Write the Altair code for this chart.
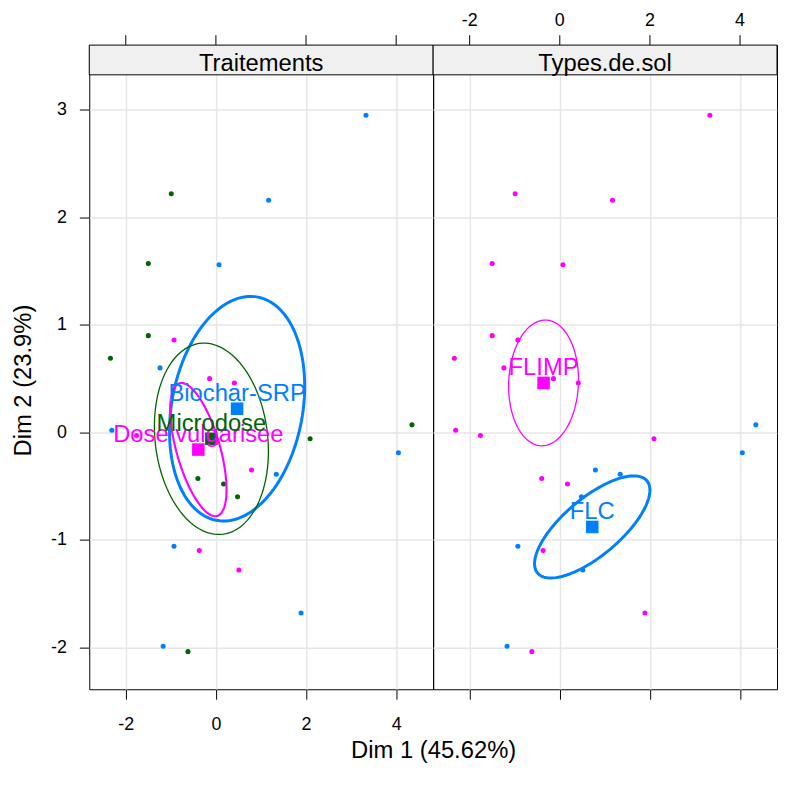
import altair as alt
import numpy as np
import pandas as pd

# ---- individuals (Dim 1, Dim 2) ----
dim1 = [3.33, -0.99, 1.17, -1.50, 0.07, -1.50, -0.93, -2.34, -1.24, -0.14, 0.41,
        -2.31, -1.76, 4.35, 2.09, 4.05, 0.79, 1.34, -0.40, 0.17, 0.48, -0.93,
        -0.37, 0.51, 1.89, -1.17, -0.62]
dim2 = [2.95, 2.22, 2.16, 1.57, 1.56, 0.90, 0.86, 0.69, 0.60, 0.50, 0.46,
        0.02, -0.03, 0.07, -0.06, -0.19, -0.35, -0.39, -0.43, -0.48, -0.60, -1.06,
        -1.10, -1.28, -1.68, -1.99, -2.04]
B, D, M = "Biochar-SRP", "Dose vulgarisee", "Microdose"
traitement = [B, M, B, M, B, M, D, M, B, D, D,
              B, D, M, M, B, D, B, M, M, M, B,
              D, D, B, B, M]
type_sol = ["FLIMP"] * 13 + ["FLC", "FLIMP", "FLC", "FLC", "FLC", "FLIMP", "FLIMP",
                             "FLC", "FLC", "FLIMP", "FLC", "FLIMP", "FLC", "FLIMP"]

# ---- categories ----
trt_levels = [B, D, M]
trt_colors = ["#0080FF", "#FF00FF", "#006400"]
trt_lw = [3, 1.3, 1.3]
sol_levels = ["FLC", "FLIMP"]
sol_colors = ["#0080FF", "#FF00FF"]
sol_lw = [3, 1.3]

# category barycentres
trt_cx = [0.47, -0.39, -0.10]
trt_cy = [0.22, -0.16, -0.06]
sol_cx = [0.72, -0.36]
sol_cy = [-0.88, 0.46]

# confidence ellipses: half extents along Dim 1 / Dim 2 and correlation
trt_ax = [1.50, 0.625, 1.265]
trt_ay = [1.045, 0.62, 0.89]
trt_rho = [0.20, -0.60, -0.13]
sol_ax = [1.28, 0.775]
sol_ay = [0.475, 0.585]
sol_rho = [0.72, 0.05]

panel_titles = ["Traitements", "Types.de.sol"]
x_ticks = [-2, 0, 2, 4]
y_ticks = [-2, -1, 0, 1, 2, 3]
x_title = "Dim 1 (45.62%)"
y_title = "Dim 2 (23.9%)"

FONT = "Liberation Sans"
W, H, STRIP = 347, 650, 30
xdom = [-2.81, 4.82]
ydom = [-2.39, 3.603]
LABEL_EXPR = "'' + datum.value"   # hyphen-minus like the reference

pts = pd.DataFrame({"dim1": dim1, "dim2": dim2, "trt": traitement, "sol": type_sol})
xt = pd.DataFrame({"v": x_ticks, "lab": [str(v) for v in x_ticks]})
yt = pd.DataFrame({"v": y_ticks})


def ellipse_df(levels, cx, cy, ax, ay, rho):
    t = np.linspace(0, 2 * np.pi, 121)
    frames = []
    for lev, x0, y0, a, b, r in zip(levels, cx, cy, ax, ay, rho):
        xs = x0 + a * np.cos(t)
        ys = y0 + b * (r * np.cos(t) + np.sqrt(1 - r * r) * np.sin(t))
        frames.append(pd.DataFrame({"g": lev, "i": np.arange(len(t)), "x": xs, "y": ys}))
    return pd.concat(frames, ignore_index=True)


def panel(idx, field, levels, colors, lws, cx, cy, ax, ay, rho):
    left = idx == 0
    xs = alt.Scale(domain=xdom, nice=False, zero=False)
    ys = alt.Scale(domain=ydom, nice=False, zero=False)
    cscale = alt.Scale(domain=levels, range=colors)

    if left:
        x_axis = alt.Axis(orient="bottom", values=x_ticks, grid=True, labels=True,
                          labelPadding=17, labelExpr=LABEL_EXPR,
                          title=x_title, titleX=W, titleY=69, titleAlign="center",
                          titleBaseline="alphabetic", titleAngle=0)
        y_axis = alt.Axis(orient="left", values=y_ticks, grid=True, labels=True,
                          labelPadding=13, labelExpr=LABEL_EXPR,
                          title=y_title, titleAngle=270,
                          titleX=-59, titleY=338, titleAlign="center",
                          titleBaseline="alphabetic")
    else:
        x_axis = alt.Axis(orient="bottom", values=x_ticks, grid=True, labels=False,
                          title=None)
        y_axis = alt.Axis(orient="left", values=y_ticks, grid=True, labels=False,
                          ticks=False, title=None)

    points = alt.Chart(pts).mark_circle(size=26, opacity=1).encode(
        x=alt.X("dim1:Q", scale=xs, axis=x_axis),
        y=alt.Y("dim2:Q", scale=ys, axis=y_axis),
        color=alt.Color(f"{field}:N", scale=cscale, legend=None),
    )

    # ticks along the top edge (and labels for the right panel)
    top_ticks = alt.Chart(xt).mark_rule(color="black", strokeWidth=1).encode(
        x=alt.X("v:Q", scale=xs, axis=None),
        y=alt.value(-10), y2=alt.value(0),
    )
    layers = [points, top_ticks]
    if not left:
        top_labels = alt.Chart(xt).mark_text(fontSize=18, font=FONT,
                                             baseline="alphabetic",
                                             color="black").encode(
            x=alt.X("v:Q", scale=xs, axis=None),
            y=alt.value(-19),
            text="lab:N",
        )
        right_ticks = alt.Chart(yt).mark_rule(color="black", strokeWidth=1).encode(
            y=alt.Y("v:Q", scale=ys, axis=None),
            x=alt.value(W), x2=alt.value(W + 1),
        )
        layers += [top_labels, right_ticks]

    edf = ellipse_df(levels, cx, cy, ax, ay, rho)
    ell = alt.Chart(edf).mark_line().encode(
        x=alt.X("x:Q", scale=xs, axis=None),
        y=alt.Y("y:Q", scale=ys, axis=None),
        order="i:Q",
        detail="g:N",
        color=alt.Color("g:N", scale=cscale, legend=None),
        strokeWidth=alt.StrokeWidth("g:N", scale=alt.Scale(domain=levels, range=lws),
                                    legend=None),
    )

    cdf = pd.DataFrame({"g": levels, "cx": cx, "cy": cy})
    sq = alt.Chart(cdf).mark_square(size=160, opacity=1).encode(
        x=alt.X("cx:Q", scale=xs, axis=None),
        y=alt.Y("cy:Q", scale=ys, axis=None),
        color=alt.Color("g:N", scale=cscale, legend=None),
    )
    lab = alt.Chart(cdf).mark_text(fontSize=24, font=FONT, baseline="alphabetic",
                                   dy=-8).encode(
        x=alt.X("cx:Q", scale=xs, axis=None),
        y=alt.Y("cy:Q", scale=ys, axis=None),
        text="g:N",
        color=alt.Color("g:N", scale=cscale, legend=None),
    )

    sdata = alt.Data(values=[{"t": panel_titles[idx]}])
    strip = alt.Chart(sdata).mark_rect(fill="#F0F0F0", stroke="black",
                                       strokeWidth=1).encode(
        x=alt.value(0), x2=alt.value(W), y=alt.value(0), y2=alt.value(STRIP))
    strip_txt = alt.Chart(sdata).mark_text(fontSize=24, font=FONT,
                                           baseline="alphabetic",
                                           color="black").encode(
        x=alt.value(W / 2), y=alt.value(26.5), text="t:N")

    layers += [ell, sq, lab, strip, strip_txt]
    return alt.layer(*layers).resolve_axis(
        x="independent", y="independent").properties(width=W, height=H)


left = panel(0, "trt", trt_levels, trt_colors, trt_lw, trt_cx, trt_cy,
             trt_ax, trt_ay, trt_rho)
right = panel(1, "sol", sol_levels, sol_colors, sol_lw, sol_cx, sol_cy,
              sol_ax, sol_ay, sol_rho)

chart = alt.hconcat(left, right, spacing=0, bounds="flush").resolve_scale(
    color="independent", strokeWidth="independent"
).properties(
    padding={"left": 3, "top": 0, "right": 0, "bottom": 0}
).configure_view(
    stroke="black", strokeWidth=1
).configure_axis(
    domain=False, tickSize=10, tickColor="black", tickWidth=1,
    gridColor="#E6E6E6", gridWidth=1.5,
    labelFont=FONT, labelFontSize=18, labelColor="black",
    titleFont=FONT, titleFontSize=24, titleColor="black", titleFontWeight="normal",
)

chart.save("out.html", embed_options={"renderer": "svg", "actions": False})
